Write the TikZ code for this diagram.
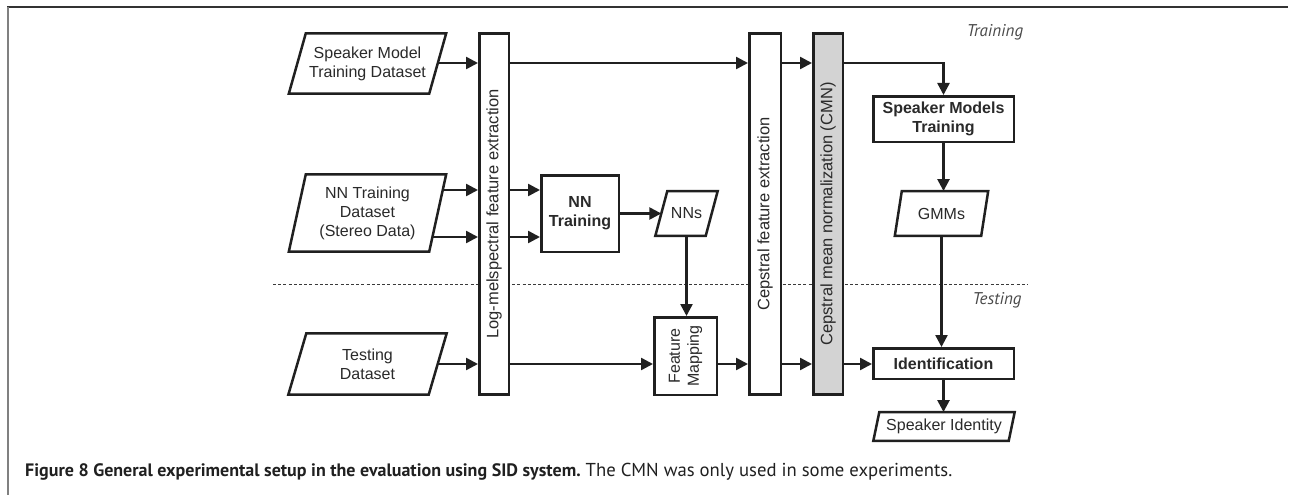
\documentclass[tikz,border=0pt]{standalone}
\usepackage{fontspec}
\setmainfont{Liberation Sans}
\newfontfamily\capfont{PT Sans}
\usetikzlibrary{arrows.meta}

\definecolor{ink}{HTML}{202020}
\definecolor{txt}{HTML}{2A2A2A}
\definecolor{cmngray}{HTML}{D3D3D3}
\definecolor{tagcol}{HTML}{4A4A4A}
\definecolor{rulecol}{HTML}{333333}
\definecolor{sidecol}{HTML}{808080}
\definecolor{sepcol}{HTML}{3A3A3A}

% layers: connectors at the back, parallelogram outlines in the middle, nodes on top
\pgfdeclarelayer{back}
\pgfdeclarelayer{shapes}
\pgfsetlayers{back,shapes,main}

% outline of a data node: a parallelogram whose sides are slanted by 2*#2
\newcommand\dataoutline[2]{%
  \begin{pgfonlayer}{shapes}
    \draw[ink, fill=white, line width=2.5pt, line join=miter]
      ([xshift=-#2]#1.south west) -- ([xshift=-#2]#1.south east) --
      ([xshift=#2]#1.north east) -- ([xshift=#2]#1.north west) -- cycle;
  \end{pgfonlayer}}

\begin{document}
\begin{tikzpicture}[x=1pt,y=-1pt,
  box/.style={draw=ink, fill=white, line width=2.5pt, inner sep=0pt, align=center,
    text=txt, font=\fontsize{16}{19}\selectfont},
  boldbox/.style={box, font=\fontsize{16}{19}\selectfont\bfseries},
  bar/.style={box, minimum height=361pt, font=\fontsize{16.5}{19}\selectfont},
  data/.style={inner sep=0pt, align=center, text=txt, font=\fontsize{16}{19}\selectfont},
  arr/.style={draw=ink, line width=2.5pt, -{Triangle[length=12pt,width=12pt]}},
  sep/.style={draw=sepcol, line width=0.8pt, dash pattern=on 3pt off 2.2pt},
  tag/.style={text=tagcol, font=\capfont\itshape\fontsize{17}{20}\selectfont}
]
\useasboundingbox (0,0) rectangle (1291,495);

% frame of the figure
\draw[rulecol, line width=2pt] (7,7) -- (1288,7);
\draw[sidecol, line width=1.5pt] (8,7) -- (8,495);

% rows used by the horizontal connectors
\coordinate (rowA) at (0,63);
\coordinate (rowB) at (0,190);
\coordinate (rowC) at (0,237);
\coordinate (rowD) at (0,364);

% input data
\node[data, minimum width=140pt, minimum height=60pt] (smd) at (367.5,63.5)
  {Speaker Model\\Training Dataset};
\dataoutline{smd}{8.5pt}
\node[data, minimum width=140pt, minimum height=77pt] (nnd) at (367.5,213)
  {NN Training\\Dataset\\(Stereo Data)};
\dataoutline{nnd}{8.5pt}
\node[data, minimum width=140pt, minimum height=61pt] (tsd) at (367.5,364)
  {Testing\\Dataset};
\dataoutline{tsd}{9pt}

% feature extraction bars
\node[bar, minimum width=29.5pt] (lm) at (494,214)
  {\rotatebox{90}{Log-melspectral feature extraction}};
\node[bar, minimum width=31.5pt] (cep) at (765,214)
  {\rotatebox{90}{Cepstral feature extraction}};
\node[bar, minimum width=29.5pt, fill=cmngray] (cmn) at (828,214)
  {\rotatebox{90}{Cepstral mean normalization (CMN)}};

% neural network branch
\node[boldbox, minimum width=77.5pt, minimum height=76.5pt] (nnt) at (580,213.5)
  {NN\\Training};
\node[data, minimum width=50pt, minimum height=44.5pt] (nns) at (686.5,213.5) {NNs};
\dataoutline{nns}{6pt}
\node[box, minimum width=62.5pt, minimum height=77.5pt] (fm) at (685.5,356)
  {\rotatebox{90}{\begin{tabular}{@{}c@{}}Feature\\Mapping\end{tabular}}};

% speaker models branch
\node[boldbox, minimum width=140.5pt, minimum height=45.5pt] (smt) at (943.5,119)
  {Speaker Models\\Training};
\node[data, minimum width=86pt, minimum height=44.5pt] (gmm) at (941.5,213.5) {GMMs};
\dataoutline{gmm}{3.5pt}
\node[boldbox, minimum width=140.5pt, minimum height=30.5pt] (idb) at (943.5,363.5)
  {Identification};
\node[data, minimum width=135pt, minimum height=28.5pt] (sid) at (944,426.5)
  {Speaker Identity};
\dataoutline{sid}{3pt}

% phase labels
\node[tag] (trn) at (995,32) {Training};
\node[tag] (tst) at (997,300) {Testing};

\begin{pgfonlayer}{back}
  % training / testing separator
  \coordinate (sepL) at (273,284);
  \coordinate (sepR) at (1028,284);
  \draw[sep] (sepL) -- (sepR);

  % training path
  \draw[arr] (smd.center |- rowA) -- (lm.west |- rowA);
  \draw[arr] (lm.east |- rowA) -- (cep.west |- rowA);
  \draw[arr] (cep.east |- rowA) -- (cmn.west |- rowA);
  \draw[arr] (cmn.east |- rowA) -| (smt.north);
  \draw[arr] (smt.south) -- (smt.south |- gmm.north);
  \draw[arr] (gmm.center) -- (gmm.center |- idb.north);

  % neural network training
  \draw[arr] (nnd.center |- rowB) -- (lm.west |- rowB);
  \draw[arr] (nnd.center |- rowC) -- (lm.west |- rowC);
  \draw[arr] (lm.east |- rowB) -- (nnt.west |- rowB);
  \draw[arr] (lm.east |- rowC) -- (nnt.west |- rowC);
  \draw[arr] (nnt.east |- nns.center) -- (nns.west);
  \draw[arr] (nns.center) -- (nns.center |- fm.north);

  % testing path
  \draw[arr] (tsd.center |- rowD) -- (lm.west |- rowD);
  \draw[arr] (lm.east |- rowD) -- (fm.west |- rowD);
  \draw[arr] (fm.east |- rowD) -- (cep.west |- rowD);
  \draw[arr] (cep.east |- rowD) -- (cmn.west |- rowD);
  \draw[arr] (cmn.east |- rowD) -- (idb.west |- rowD);
  \draw[arr] (idb.south) -- (idb.south |- sid.north);
\end{pgfonlayer}

% caption
\node[anchor=base west, inner sep=0pt, text=ink] (cap) at (25,476)
  {{\capfont\bfseries\fontsize{18}{22}\selectfont Figure 8 General experimental setup in the evaluation using SID system.}%
   {\capfont\fontsize{18.7}{22}\selectfont\ The CMN was only used in some experiments.}};
\end{tikzpicture}
\end{document}
